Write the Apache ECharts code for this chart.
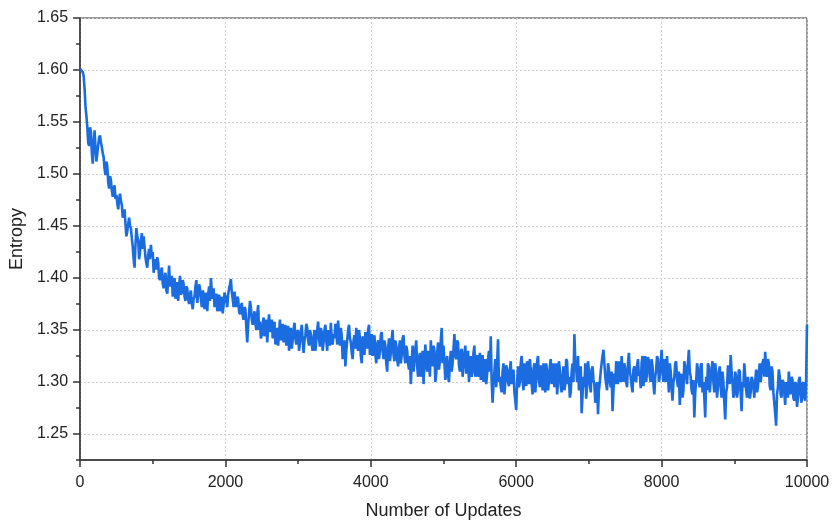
<!DOCTYPE html>
<html>
<head>
<meta charset="utf-8">
<title>Entropy</title>
<script src="https://cdn.jsdelivr.net/npm/echarts@6.0.0/dist/echarts.min.js"></script>
<style>
  html, body { margin: 0; padding: 0; background: #fff; }
  #chart { width: 833px; height: 525px; }
</style>
</head>
<body>
<div id="chart"></div>
<script>
// one value every 25 updates (0, 25, ... 10000)
const step = 25;
const entropy = [
  // 0 - 475
  1.601, 1.600, 1.594, 1.565, 1.545, 1.527, 1.540, 1.510, 1.542, 1.512,
  1.528, 1.537, 1.526, 1.516, 1.499, 1.507, 1.486, 1.494, 1.478, 1.489,
  // 500 - 975
  1.480, 1.466, 1.481, 1.470, 1.462, 1.452, 1.445, 1.458, 1.448, 1.430,
  1.410, 1.448, 1.436, 1.425, 1.443, 1.440, 1.420, 1.410, 1.428, 1.432,
  // 1000 - 1475
  1.425, 1.418, 1.408, 1.415, 1.398, 1.410, 1.390, 1.405, 1.385, 1.412,
  1.395, 1.382, 1.400, 1.388, 1.378, 1.402, 1.386, 1.394, 1.378, 1.390,
  // 1500 - 1975
  1.375, 1.388, 1.370, 1.382, 1.398, 1.384, 1.390, 1.372, 1.385, 1.378,
  1.368, 1.392, 1.400, 1.380, 1.372, 1.385, 1.375, 1.368, 1.382, 1.374,
  // 2000 - 2475
  1.385, 1.372, 1.390, 1.399, 1.380, 1.387, 1.372, 1.380, 1.365, 1.376,
  1.360, 1.370, 1.338, 1.366, 1.372, 1.355, 1.368, 1.350, 1.374, 1.358,
  // 2500 - 2975
  1.345, 1.362, 1.350, 1.338, 1.365, 1.352, 1.342, 1.358, 1.345, 1.335,
  1.360, 1.348, 1.338, 1.355, 1.343, 1.330, 1.352, 1.340, 1.357, 1.336,
  // 3000 - 3475
  1.350, 1.338, 1.355, 1.328, 1.345, 1.352, 1.335, 1.346, 1.330, 1.350,
  1.340, 1.358, 1.334, 1.348, 1.338, 1.355, 1.330, 1.344, 1.357, 1.336,
  // 3500 - 3975
  1.342, 1.350, 1.359, 1.335, 1.344, 1.330, 1.315, 1.340, 1.355, 1.338,
  1.322, 1.345, 1.352, 1.330, 1.342, 1.318, 1.335, 1.348, 1.332, 1.355,
  // 4000 - 4475
  1.338, 1.325, 1.345, 1.318, 1.340, 1.330, 1.348, 1.322, 1.335, 1.310,
  1.342, 1.328, 1.350, 1.320, 1.335, 1.315, 1.340, 1.326, 1.345, 1.318,
  // 4500 - 4975
  1.330, 1.312, 1.298, 1.335, 1.320, 1.340, 1.305, 1.328, 1.318, 1.298,
  1.336, 1.310, 1.325, 1.340, 1.315, 1.330, 1.308, 1.338, 1.320, 1.352,
  // 5000 - 5475
  1.335, 1.302, 1.325, 1.300, 1.330, 1.318, 1.346, 1.322, 1.338, 1.310,
  1.332, 1.315, 1.335, 1.318, 1.300, 1.325, 1.310, 1.335, 1.318, 1.305,
  // 5500 - 5975
  1.328, 1.312, 1.300, 1.322, 1.308, 1.330, 1.344, 1.280, 1.310, 1.295,
  1.341, 1.305, 1.290, 1.318, 1.300, 1.312, 1.296, 1.320, 1.305, 1.290,
  // 6000 - 6475
  1.273, 1.315, 1.300, 1.325, 1.292, 1.310, 1.320, 1.298, 1.312, 1.288,
  1.318, 1.302, 1.325, 1.295, 1.308, 1.318, 1.290, 1.310, 1.300, 1.322,
  // 6500 - 6975
  1.305, 1.295, 1.318, 1.300, 1.312, 1.290, 1.315, 1.298, 1.320, 1.305,
  1.290, 1.318, 1.346, 1.312, 1.325, 1.295, 1.270, 1.305, 1.318, 1.296,
  // 7000 - 7475
  1.310, 1.290, 1.315, 1.298, 1.285, 1.269, 1.300, 1.318, 1.331, 1.305,
  1.292, 1.312, 1.295, 1.272, 1.308, 1.320, 1.298, 1.315, 1.325, 1.300,
  // 7500 - 7975
  1.312, 1.295, 1.328, 1.305, 1.290, 1.315, 1.300, 1.322, 1.308, 1.318,
  1.296, 1.325, 1.310, 1.320, 1.300, 1.315, 1.288, 1.312, 1.322, 1.305,
  // 8000 - 8475
  1.331, 1.300, 1.318, 1.325, 1.290, 1.310, 1.282, 1.305, 1.320, 1.295,
  1.278, 1.308, 1.292, 1.315, 1.298, 1.331, 1.305, 1.288, 1.266, 1.300,
  // 8500 - 8975
  1.312, 1.295, 1.318, 1.300, 1.266, 1.292, 1.315, 1.302, 1.320, 1.290,
  1.308, 1.295, 1.315, 1.285, 1.300, 1.264, 1.295, 1.310, 1.326, 1.300,
  // 9000 - 9475
  1.288, 1.305, 1.292, 1.310, 1.272, 1.295, 1.305, 1.285, 1.298, 1.290,
  1.302, 1.285, 1.312, 1.295, 1.318, 1.300, 1.322, 1.329, 1.305, 1.318,
  // 9500 - 10000
  1.292, 1.310, 1.280, 1.258, 1.295, 1.305, 1.285, 1.300, 1.278, 1.295,
  1.310, 1.288, 1.302, 1.282, 1.298, 1.285, 1.305, 1.280, 1.300, 1.282,
  1.355
];

// values half way between the ones above (12.5, 37.5, ... 9987.5)
const entropyMid = [
  // 0 - 475
  1.601, 1.598, 1.582, 1.556, 1.530, 1.545, 1.520, 1.530, 1.525, 1.520,
  1.535, 1.530, 1.520, 1.505, 1.512, 1.492, 1.498, 1.484, 1.486, 1.476,
  // 500 - 975
  1.472, 1.476, 1.474, 1.458, 1.466, 1.440, 1.452, 1.450, 1.438, 1.418,
  1.432, 1.440, 1.418, 1.436, 1.428, 1.430, 1.414, 1.422, 1.418, 1.420,
  // 1000 - 1475
  1.405, 1.414, 1.420, 1.400, 1.406, 1.395, 1.400, 1.388, 1.398, 1.392,
  1.402, 1.394, 1.380, 1.396, 1.392, 1.384, 1.398, 1.382, 1.392, 1.380,
  // 1500 - 1975
  1.384, 1.376, 1.380, 1.392, 1.376, 1.394, 1.380, 1.388, 1.370, 1.386,
  1.384, 1.378, 1.388, 1.390, 1.382, 1.368, 1.384, 1.378, 1.366, 1.386,
  // 2000 - 2475
  1.378, 1.384, 1.394, 1.386, 1.372, 1.378, 1.382, 1.368, 1.372, 1.364,
  1.372, 1.352, 1.355, 1.378, 1.360, 1.362, 1.356, 1.365, 1.350, 1.342,
  // 2500 - 2975
  1.356, 1.344, 1.360, 1.352, 1.348, 1.360, 1.350, 1.336, 1.352, 1.348,
  1.340, 1.356, 1.346, 1.335, 1.354, 1.344, 1.332, 1.350, 1.342, 1.348,
  // 3000 - 3475
  1.330, 1.348, 1.340, 1.340, 1.356, 1.340, 1.350, 1.336, 1.342, 1.330,
  1.350, 1.342, 1.352, 1.330, 1.350, 1.340, 1.350, 1.335, 1.342, 1.346,
  // 3500 - 3975
  1.356, 1.336, 1.345, 1.352, 1.322, 1.340, 1.330, 1.350, 1.342, 1.328,
  1.340, 1.332, 1.336, 1.350, 1.325, 1.344, 1.326, 1.340, 1.350, 1.326,
  // 4000 - 4475
  1.346, 1.338, 1.326, 1.336, 1.322, 1.345, 1.330, 1.340, 1.318, 1.332,
  1.320, 1.342, 1.326, 1.340, 1.322, 1.332, 1.318, 1.342, 1.325, 1.335,
  // 4500 - 4975
  1.318, 1.325, 1.318, 1.310, 1.332, 1.315, 1.322, 1.305, 1.330, 1.320,
  1.318, 1.330, 1.305, 1.322, 1.335, 1.300, 1.328, 1.312, 1.340, 1.318,
  // 5000 - 5475
  1.318, 1.320, 1.305, 1.318, 1.310, 1.332, 1.325, 1.340, 1.316, 1.328,
  1.305, 1.328, 1.308, 1.330, 1.315, 1.305, 1.328, 1.305, 1.326, 1.312,
  // 5500 - 5975
  1.302, 1.326, 1.315, 1.298, 1.322, 1.310, 1.300, 1.298, 1.322, 1.318,
  1.300, 1.295, 1.310, 1.288, 1.316, 1.300, 1.312, 1.298, 1.312, 1.282,
  // 6000 - 6475
  1.300, 1.295, 1.318, 1.302, 1.318, 1.296, 1.305, 1.322, 1.298, 1.312,
  1.290, 1.320, 1.302, 1.316, 1.292, 1.302, 1.318, 1.292, 1.315, 1.298,
  // 6500 - 6975
  1.318, 1.310, 1.288, 1.320, 1.296, 1.305, 1.292, 1.322, 1.298, 1.285,
  1.310, 1.300, 1.320, 1.300, 1.292, 1.315, 1.288, 1.295, 1.284, 1.320,
  // 7000 - 7475
  1.298, 1.312, 1.302, 1.280, 1.300, 1.292, 1.310, 1.325, 1.318, 1.298,
  1.318, 1.300, 1.310, 1.292, 1.298, 1.305, 1.320, 1.300, 1.310, 1.318,
  // 7500 - 7975
  1.300, 1.318, 1.310, 1.296, 1.312, 1.302, 1.316, 1.306, 1.294, 1.325,
  1.312, 1.300, 1.324, 1.305, 1.322, 1.298, 1.305, 1.325, 1.300, 1.318,
  // 8000 - 8475
  1.312, 1.322, 1.300, 1.305, 1.318, 1.295, 1.300, 1.318, 1.302, 1.310,
  1.296, 1.285, 1.320, 1.305, 1.318, 1.310, 1.292, 1.302, 1.290, 1.318,
  // 8500 - 8975
  1.300, 1.316, 1.290, 1.285, 1.305, 1.318, 1.290, 1.312, 1.300, 1.318,
  1.285, 1.310, 1.296, 1.310, 1.280, 1.290, 1.316, 1.298, 1.310, 1.285,
  // 9000 - 9475
  1.310, 1.285, 1.312, 1.290, 1.300, 1.318, 1.292, 1.305, 1.284, 1.305,
  1.295, 1.300, 1.290, 1.310, 1.300, 1.318, 1.305, 1.312, 1.322, 1.296,
  // 9500 - 9975
  1.315, 1.290, 1.270, 1.288, 1.312, 1.288, 1.302, 1.290, 1.300, 1.285,
  1.296, 1.305, 1.285, 1.300, 1.276, 1.302, 1.288, 1.298, 1.285, 1.300
];

const yTicks = [1.25, 1.3, 1.35, 1.4, 1.45, 1.5, 1.55, 1.6, 1.65];
const xTicks = [0, 2000, 4000, 6000, 8000, 10000];

// merge the two lists in update order
const points = [];
entropy.forEach((v, i) => {
  points.push([i * step, v]);
  if (i < entropyMid.length) points.push([i * step + step / 2, entropyMid[i]]);
});

const chart = echarts.init(document.getElementById("chart"));

const labelStyle = {
  color: "#222",
  fontSize: 16,
  fontFamily: "Liberation Sans, Arial, sans-serif",
};
const gridLine = { type: [2, 2], width: 1 };
const tickLine = { color: "#333", width: 1.5 };

chart.setOption({
  animation: false,
  grid: {
    left: 80,
    right: 26,
    top: 18,
    bottom: 62,
    show: true,
    borderColor: "#333",
    borderWidth: 1,
  },
  xAxis: [
    {
      type: "value",
      min: 0,
      max: 10000,
      interval: 1000,
      name: "Number of Updates",
      nameLocation: "middle",
      nameGap: 42,
      nameTextStyle: { ...labelStyle, fontSize: 18 },
      axisLine: { lineStyle: tickLine },
      axisTick: { length: 4, lineStyle: tickLine },
      axisLabel: {
        ...labelStyle,
        margin: 15,
        formatter: (v) => (v % 2000 === 0 ? String(v) : ""),
      },
      splitLine: {
        show: true,
        lineStyle: { ...gridLine, color: ["#cfcfcf", "rgba(0,0,0,0)"] },
      },
    },
    {
      // longer ticks at the labelled values
      type: "value",
      position: "bottom",
      min: 0,
      max: 10000,
      interval: 2000,
      axisLine: { show: false },
      axisTick: { length: 7, customValues: xTicks, lineStyle: tickLine },
      axisLabel: { show: false },
      splitLine: { show: false },
    },
  ],
  yAxis: [
    {
      type: "value",
      min: 1.225,
      max: 1.65,
      interval: 0.025,
      name: "Entropy",
      nameLocation: "middle",
      nameGap: 53,
      nameTextStyle: { ...labelStyle, fontSize: 18 },
      axisLine: { show: true, lineStyle: tickLine },
      axisTick: { show: true, length: 4, lineStyle: tickLine },
      axisLabel: {
        ...labelStyle,
        margin: 12,
        formatter: (v) =>
          Math.round(v * 1000) % 50 === 0 ? v.toFixed(2) : "",
      },
      splitLine: {
        show: true,
        lineStyle: { ...gridLine, color: ["rgba(0,0,0,0)", "#cfcfcf"] },
      },
    },
    {
      type: "value",
      position: "left",
      min: 1.225,
      max: 1.65,
      axisLine: { show: false },
      axisTick: { show: true, length: 7, customValues: yTicks, lineStyle: tickLine },
      axisLabel: { show: false },
      splitLine: { show: false },
    },
  ],
  series: [
    {
      type: "line",
      data: points,
      showSymbol: false,
      lineStyle: { color: "#1b6ce0", width: 2.6 },
      clip: true,
    },
  ],
});
</script>
</body>
</html>
